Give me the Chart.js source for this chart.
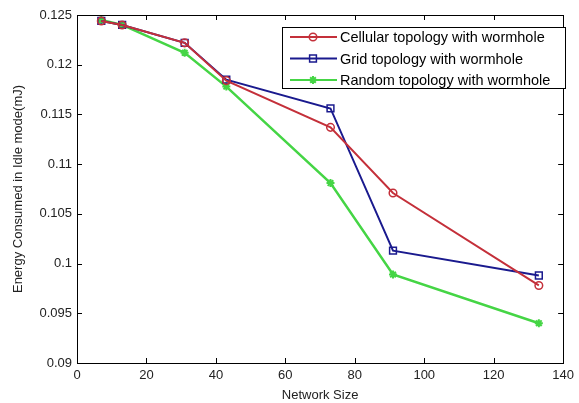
<!DOCTYPE html>
<html>
<head>
<meta charset="utf-8">
<script src="https://cdn.jsdelivr.net/npm/chart.js@4.4.1/dist/chart.umd.min.js"></script>
<style>
html,body{margin:0;padding:0;background:#fff;}
#wrap{width:579px;height:403px;position:relative;}
</style>
</head>
<body>
<div id="wrap"><canvas id="c" width="579" height="403"></canvas></div>
<script>
const networkSize = [7, 13, 31, 43, 73, 91, 133];
const cellular = [0.1244, 0.1240, 0.1222, 0.1184, 0.1137, 0.1071, 0.0978];
const grid     = [0.1244, 0.1240, 0.1222, 0.1185, 0.1156, 0.1013, 0.0988];
const random   = [0.1245, 0.1240, 0.1212, 0.1178, 0.1081, 0.0989, 0.0940];
const xTicks = [0, 20, 40, 60, 80, 100, 120, 140];
const yTicks = [0.09, 0.095, 0.1, 0.105, 0.11, 0.115, 0.12, 0.125];
const seriesNames = ['Cellular topology with wormhole', 'Grid topology with wormhole', 'Random topology with wormhole'];

const FONT = 'Liberation Sans, Arial, sans-serif';
const pts = arr => arr.map((v, i) => ({x: networkSize[i], y: v}));

const boxPlugin = {
  id: 'boxPlugin',
  afterDraw(chart) {
    const {ctx, chartArea: a, scales: {x, y}} = chart;
    ctx.save();
    ctx.strokeStyle = '#000';
    ctx.lineWidth = 1;
    ctx.strokeRect(Math.round(a.left) + 0.5, Math.round(a.top) + 0.5, Math.round(a.right - a.left), Math.round(a.bottom - a.top));
    const L = 5;
    ctx.beginPath();
    xTicks.forEach(t => {
      const px = Math.round(x.getPixelForValue(t)) + 0.5;
      ctx.moveTo(px, a.bottom); ctx.lineTo(px, a.bottom - L);
      ctx.moveTo(px, a.top); ctx.lineTo(px, a.top + L);
    });
    yTicks.forEach(t => {
      const py = Math.round(y.getPixelForValue(t)) + 0.5;
      ctx.moveTo(a.left, py); ctx.lineTo(a.left + L, py);
      ctx.moveTo(a.right, py); ctx.lineTo(a.right - L, py);
    });
    ctx.stroke();

    // legend
    const lx = 282, ly = 27, lw = 283, lh = 61;
    ctx.fillStyle = '#fff';
    ctx.fillRect(lx, ly, lw, lh);
    ctx.strokeStyle = '#000';
    ctx.lineWidth = 1;
    ctx.strokeRect(lx + 0.5, ly + 0.5, lw, lh);
    ctx.font = '14.5px ' + FONT;
    ctx.textBaseline = 'middle';
    chart.data.datasets.forEach((ds, i) => {
      const cy = ly + 10 + i * 21.5;
      ctx.strokeStyle = ds.borderColor;
      ctx.lineWidth = 2;
      ctx.beginPath();
      ctx.moveTo(lx + 8, cy); ctx.lineTo(lx + 55, cy);
      ctx.stroke();
      ctx.fillStyle = ds.pointBackgroundColor;
      ctx.lineWidth = ds.pointBorderWidth;
      Chart.helpers.drawPoint(ctx, {pointStyle: ds.pointStyle, radius: ds.pointRadius, borderWidth: ds.pointBorderWidth, rotation: 0}, lx + 31, cy);
      ctx.fillStyle = '#000';
      ctx.fillText(ds.label, lx + 58, cy + 1);
    });
    ctx.restore();
  }
};

new Chart(document.getElementById('c'), {
  type: 'line',
  data: {
    datasets: [
      {label: seriesNames[0], data: pts(cellular), borderColor: '#c4303a', backgroundColor: 'rgba(0,0,0,0)', pointBackgroundColor: 'rgba(0,0,0,0)', pointStyle: 'circle', pointRadius: 3.8, pointBorderWidth: 1.5, borderWidth: 2},
      {label: seriesNames[1], data: pts(grid), borderColor: '#1a1a8e', backgroundColor: 'rgba(0,0,0,0)', pointBackgroundColor: 'rgba(0,0,0,0)', pointStyle: 'rect', pointRadius: 4.8, pointBorderWidth: 1.5, borderWidth: 2},
      {label: seriesNames[2], data: pts(random), borderColor: '#45d545', backgroundColor: '#45d545', pointBackgroundColor: '#45d545', pointStyle: 'star', pointRadius: 4, pointBorderWidth: 2, borderWidth: 2.5}
    ]
  },
  options: {
    responsive: false,
    animation: false,
    layout: {padding: {top: 15, right: 12, left: 11, bottom: 0}},
    plugins: {legend: {display: false}, tooltip: {enabled: false}},
    elements: {line: {tension: 0}},
    scales: {
      x: {
        type: 'linear', min: 0, max: 140,
        afterBuildTicks: s => { s.ticks = xTicks.map(v => ({value: v})); },
        afterFit: s => { s.height = 40; },
        grid: {display: false, drawTicks: false},
        border: {display: false},
        ticks: {color: '#222', font: {family: FONT, size: 13}, padding: 5, maxRotation: 0, callback: v => String(v)},
        title: {display: true, text: 'Network Size', color: '#222', font: {family: FONT, size: 13}, padding: {top: 0, bottom: 0}}
      },
      y: {
        type: 'linear', min: 0.09, max: 0.125,
        afterBuildTicks: s => { s.ticks = yTicks.map(v => ({value: v})); },
        afterFit: s => { s.width = 66; },
        grid: {display: false, drawTicks: false},
        border: {display: false},
        ticks: {color: '#222', font: {family: FONT, size: 13}, padding: 5, callback: v => String(parseFloat(v.toFixed(3)))},
        title: {display: true, text: 'Energy Consumed in Idle mode(mJ)', color: '#222', font: {family: FONT, size: 13}, padding: {top: 0, bottom: 4}}
      }
    }
  },
  plugins: [boxPlugin]
});
</script>
</body>
</html>
